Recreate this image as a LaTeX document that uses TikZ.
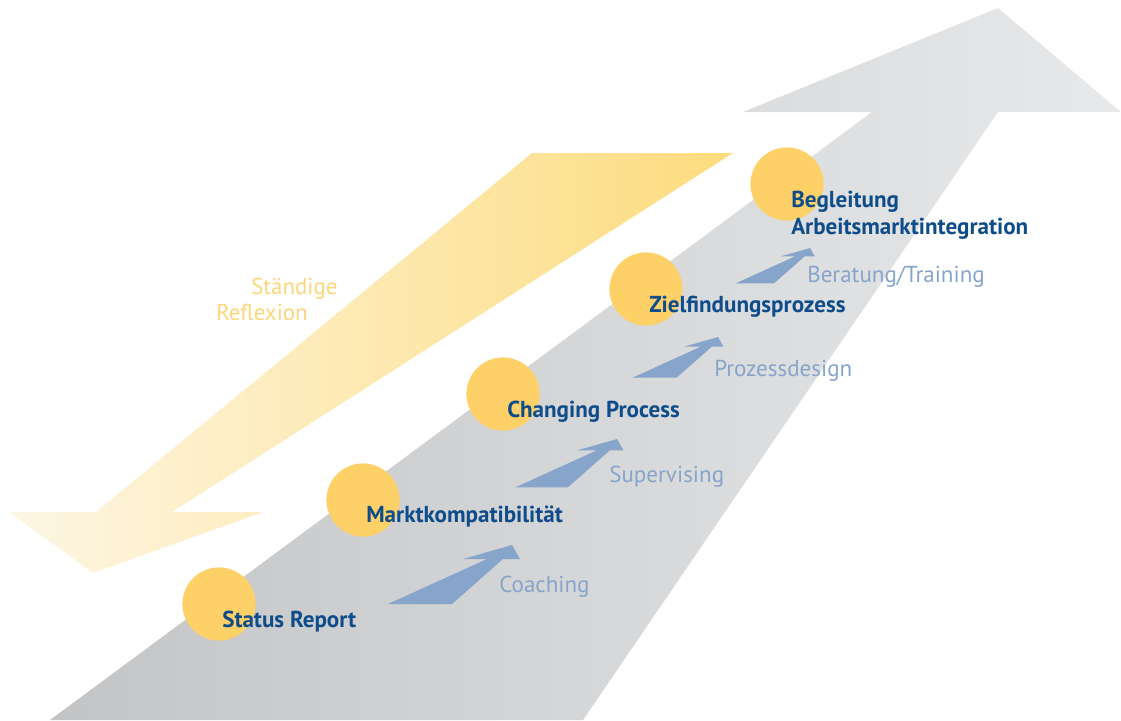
\documentclass[tikz,border=0pt]{standalone}
\usepackage{fontspec}
\setmainfont{PT Sans}
\definecolor{roadleft}{HTML}{C3C4C6}
\definecolor{roadright}{HTML}{E8E9EB}
\definecolor{reflleft}{HTML}{FDF6E4}
\definecolor{reflright}{HTML}{FDDC7E}
\definecolor{dotyellow}{HTML}{FDD068}
\definecolor{stepblue}{HTML}{0E4C8A}
\definecolor{helpblue}{HTML}{87A5CB}
\definecolor{refltext}{HTML}{FDD57A}
\tikzset{
  stepdot/.style={circle, fill=dotyellow, minimum size=18.3mm, inner sep=0pt},
  steptext/.style={anchor=base west, inner sep=0pt, text=stepblue, font=\fontsize{16.4}{20}\selectfont\bfseries},
  helptext/.style={anchor=base west, inner sep=0pt, text=helpblue, font=\fontsize{16.4}{20}\selectfont},
  refltext/.style={anchor=base west, inner sep=0pt, text=refltext, font=\fontsize{16.3}{20}\selectfont}
}
\begin{document}
\begin{tikzpicture}[x=0.25mm, y=-0.25mm]
  \useasboundingbox (0,0) rectangle (1121,720);
  % reflection arrow
  \shade [left color=reflleft, right color=reflright]
    (532,153) -- (733,153) -- (172,512) -- (263,512) -- (93,573) -- (9,512) -- (96,512) -- cycle;
  % road
  \shade [left color=roadleft, right color=roadright]
    (50,720) -- (872,112) -- (743,112) -- (998,8) -- (1121,112) -- (998,112) -- (583,720) -- cycle;
  % small arrows
  \foreach \tx/\ty/\s in {512/545/1, 617/439/0.82, 718/337/0.69, 810/248/0.6}
    \fill [helpblue, shift={(\tx,\ty)}, scale=\s]
      (-124,59) -- (-60,59) -- (-9,14) -- (8,14) -- (0,0) -- (-49,14) -- (-25,14) -- cycle;
  % dots
  \node [stepdot] (dot1) at (219,604) {};
  \node [stepdot] (dot2) at (363,500) {};
  \node [stepdot] (dot3) at (503,394) {};
  \node [stepdot] (dot4) at (646,289) {};
  \node [stepdot] (dot5) at (787,184) {};
  % steps
  \node [steptext] (status) at (222,627) {Status Report};
  \node [steptext] (markt) at (366,522) {Marktkompatibilität};
  \node [steptext] (changing) at (507,417) {Changing Process};
  \node [steptext] (ziel) at (649,312) {Zielfindungsprozess};
  \node [steptext] (begl) at (791,207) {Begleitung};
  \node [steptext] (integr) at (791,234) {Arbeitsmarktintegration};
  % methods
  \node [helptext] (coaching) at (499,592) {Coaching};
  \node [helptext] (superv) at (609,482) {Supervising};
  \node [helptext] (design) at (714,376) {Prozessdesign};
  \node [helptext] (training) at (807,282) {Beratung/Training};
  % reflection
  \node [refltext] (staendig) at (251,294) {Ständige};
  \node [refltext] (reflex) at (216,320) {Reflexion};
\end{tikzpicture}
\end{document}
